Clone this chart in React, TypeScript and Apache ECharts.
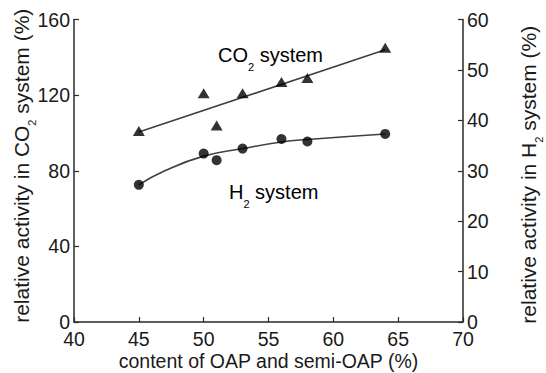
import React, { useEffect, useRef } from "react";
import * as echarts from "echarts";

// x: content of OAP and semi-OAP (%)
const contentX = [45, 50, 51, 53, 56, 58, 64];
// CO2 system relative activity (%) — left axis
const co2Activity = [101, 121, 104, 121, 127, 129, 145];
// H2 system relative activity (%) — right axis
const h2Activity = [27.2, 33.4, 32.1, 34.4, 36.3, 35.8, 37.3];
// fitted trend line for CO2 system (end points)
const co2FitX = [45, 64];
const co2FitY = [100.5, 144];
// fitted curve for H2 system
const h2FitX = [45, 47, 50, 53, 56, 58, 64];
const h2FitY = [27.2, 30.0, 32.9, 34.4, 35.7, 36.2, 37.3];

const xTicks = { min: 40, max: 70, interval: 5 };
const leftTicks = { min: 0, max: 160, interval: 40 };
const rightTicks = { min: 0, max: 60, interval: 10 };

const FONT = "Liberation Sans, Arial, Helvetica, sans-serif";
const TXT = "#1a1a1a";
const AX = "#2a2a2a";

const richLabel = {
  m: { fontSize: 20, fontFamily: FONT, color: TXT, lineHeight: 20, verticalAlign: "top" },
  s: { fontSize: 11, fontFamily: FONT, color: TXT, lineHeight: 11, padding: [16, 0, 0, 0], verticalAlign: "top" },
};
const richTitle = {
  m: { fontSize: 21, fontFamily: FONT, color: TXT, lineHeight: 21, verticalAlign: "top" },
  s: { fontSize: 11, fontFamily: FONT, color: TXT, lineHeight: 11, padding: [15, 0, 0, 0], verticalAlign: "top" },
};

export default function App() {
  const ref = useRef<HTMLDivElement>(null);
  useEffect(() => {
    if (!ref.current) return;
    const chart = echarts.init(ref.current, undefined, { renderer: "svg" });
    const axisCommon = {
      axisLine: { show: true, lineStyle: { color: AX, width: 1.5 } },
      axisTick: { show: true, inside: true, length: 5, lineStyle: { color: AX, width: 1.2 } },
      splitLine: { show: false },
      axisLabel: { color: TXT, fontSize: 19.5, fontFamily: FONT },
      nameMoveOverlap: false,
    };
    chart.setOption({
      animation: false,
      backgroundColor: "#ffffff",
      grid: { left: 74, right: 83, top: 19.5, bottom: 51, containLabel: false, outerBoundsMode: "none" },
      xAxis: {
        type: "value",
        ...xTicks,
        ...axisCommon,
        axisLabel: { ...axisCommon.axisLabel, margin: 7 },
        name: "content of OAP and semi-OAP (%)",
        nameLocation: "middle",
        nameGap: 29,
        nameTextStyle: { color: TXT, fontSize: 19.5, fontFamily: FONT },
      },
      yAxis: [
        {
          type: "value",
          position: "left",
          ...leftTicks,
          ...axisCommon,
          axisLabel: { ...axisCommon.axisLabel, margin: 4 },
          name: "{m|relative activity in CO}{s|2}{m| system (%)}",
          nameLocation: "middle",
          nameRotate: 90,
          nameGap: 42,
          nameTextStyle: { rich: richTitle, padding: [0, 0, 0, 10] },
        },
        {
          type: "value",
          position: "right",
          ...rightTicks,
          ...axisCommon,
          axisLabel: { ...axisCommon.axisLabel, margin: 4 },
          name: "{m|relative activity in H}{s|2}{m| system (%)}",
          nameLocation: "middle",
          nameRotate: 90,
          nameGap: 55,
          nameTextStyle: { rich: richTitle, padding: [0, 8, 0, 0] },
        },
      ],
      series: [
        {
          type: "line",
          yAxisIndex: 0,
          data: co2FitX.map((x, i) => [x, co2FitY[i]]),
          showSymbol: false,
          symbol: "none",
          lineStyle: { color: "#404040", width: 1.6 },
          z: 2,
        },
        {
          type: "line",
          yAxisIndex: 1,
          data: h2FitX.map((x, i) => [x, h2FitY[i]]),
          smooth: 0.5,
          showSymbol: false,
          symbol: "none",
          lineStyle: { color: "#404040", width: 1.6 },
          z: 2,
        },
        {
          type: "scatter",
          yAxisIndex: 0,
          data: contentX.map((x, i) => [x, co2Activity[i]]),
          symbol: "triangle",
          symbolSize: [12, 10],
          itemStyle: { color: "#000000" },
          z: 3,
        },
        {
          type: "scatter",
          yAxisIndex: 1,
          data: contentX.map((x, i) => [x, h2Activity[i]]),
          symbol: "circle",
          symbolSize: 10,
          itemStyle: { color: "#000000" },
          z: 3,
        },
      ],
      graphic: [
        {
          type: "text",
          left: 218,
          top: 45,
          style: { text: "{m|CO}{s|2}{m| system}", rich: richLabel },
        },
        {
          type: "text",
          left: 229,
          top: 182,
          style: { text: "{m|H}{s|2}{m| system}", rich: richLabel },
        },
      ],
    });
    return () => chart.dispose();
  }, []);
  return <div ref={ref} style={{ position: "fixed", left: 0, top: 0, width: 546, height: 373 }} />;
}
